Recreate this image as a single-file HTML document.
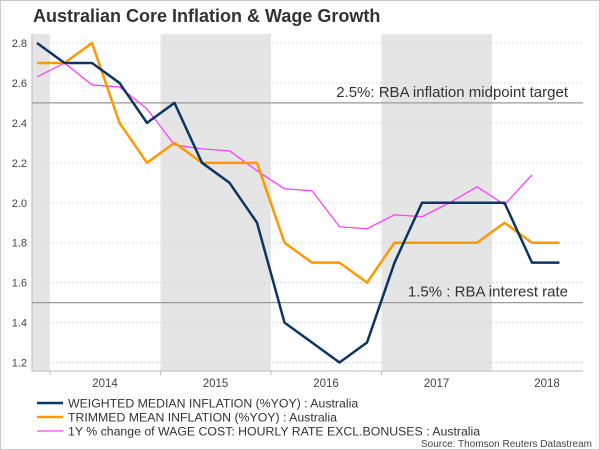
<!DOCTYPE html>
<html><head><meta charset="utf-8"><style>
body{margin:0;background:#fff}
#wrap{position:relative;width:598px;height:448px;border:1px solid #c8c8c8;background:#fff;overflow:hidden}
svg text{font-family:"Liberation Sans",Arial,sans-serif}
</style></head><body>
<div id="wrap">
<svg id="chart" width="598" height="448">
<text x="32" y="21" font-size="18" font-weight="bold" fill="#333">Australian Core Inflation &amp; Wage Growth</text>
<g id="plot"></g>
</svg>
</div>
<script>
const yTicks=[1.2,1.4,1.6,1.8,2.0,2.2,2.4,2.6,2.8];
const yearLabels=["2014","2015","2016","2017","2018"];
const weightedMedian=[2.8,2.7,2.7,2.6,2.4,2.5,2.2,2.1,1.9,1.4,1.3,1.2,1.3,1.7,2.0,2.0,2.0,2.0,1.7,1.7];
const trimmedMean=[2.7,2.7,2.8,2.4,2.2,2.3,2.2,2.2,2.2,1.8,1.7,1.7,1.6,1.8,1.8,1.8,1.8,1.9,1.8,1.8];
const wageGrowth=[2.63,2.7,2.59,2.58,2.47,2.29,2.27,2.26,2.16,2.07,2.06,1.88,1.87,1.94,1.93,2.0,2.08,1.99,2.14];
const refLines=[{v:2.5,label:"2.5%: RBA inflation midpoint target"},{v:1.5,label:"1.5% : RBA interest rate"}];
const shadedYears=[-1,1,3];

const NS="http://www.w3.org/2000/svg";
const g=document.getElementById('plot');
const X0=31,X1=582,TOP=33,AX=370;
const y=v=>42+(2.8-v)*199.7;
const x=i=>36+i*27.5;
const yearStart=k=>49+k*110.5;
function el(t,a){const e=document.createElementNS(NS,t);for(const k in a)e.setAttribute(k,a[k]);g.appendChild(e);return e;}

shadedYears.forEach(k=>{
  let a,b;
  if(k<0){a=X0;b=49;}else{a=yearStart(k);b=yearStart(k+1);}
  const r=el('rect',{x:a,y:TOP,width:b-a,height:AX-TOP,fill:'#e5e5e5'});
  
  
});
yTicks.forEach(v=>{
  const l=el('line',{x1:X0,x2:X1,y1:y(v),y2:y(v),stroke:'#d8d8d8','stroke-dasharray':'2,2','stroke-width':1});
  
  
  const t=el('text',{x:26,y:y(v)+4,'font-size':11,fill:'#444','text-anchor':'end'});
  t.textContent=v.toFixed(1);
  
  
});
const ya=el('line',{x1:X0,x2:X0,y1:TOP,y2:AX,stroke:'#bbb'});


const xa=el('line',{x1:X0,x2:X1,y1:AX,y2:AX,stroke:'#bbb'});


for(let k=0;k<4;k++){
  const tk=el('line',{x1:yearStart(k),x2:yearStart(k),y1:AX,y2:AX+4,stroke:'#bbb'});
  
  
}
yearLabels.forEach((s,k)=>{
  const t=el('text',{x:104+k*110.5,y:386,'font-size':11.5,fill:'#444','text-anchor':'middle'});
  t.textContent=s;
  
  
});
refLines.forEach(r=>{
  const l=el('line',{x1:X0,x2:X1,y1:y(r.v),y2:y(r.v),stroke:'#999','stroke-width':1.2});
  
  
  const t=el('text',{x:567,y:y(r.v)-6,'font-size':15,fill:'#333','text-anchor':'end'});
  t.textContent=r.label;
  
  
});
function series(arr,color,w,name){
  const p=el('polyline',{points:arr.map((v,i)=>x(i)+','+y(v)).join(' '),fill:'none',stroke:color,'stroke-width':w,'stroke-linejoin':'round'});
  
  
}
series(wageGrowth,'#ff40ff',1.3,'wage-growth-line');
series(trimmedMean,'#ff9900',2.5,'trimmed-mean-line');
series(weightedMedian,'#0d3564',2.5,'weighted-median-line');
const leg=[["#0d3564",2.5,"WEIGHTED MEDIAN INFLATION (%YOY) : Australia"],["#ff9900",2.5,"TRIMMED MEAN INFLATION (%YOY) : Australia"],["#ff40ff",1.3,"1Y % change of WAGE COST: HOURLY RATE EXCL.BONUSES : Australia"]];
leg.forEach((e,i)=>{
  const yy=402+i*14;
  const l=el('line',{x1:36,x2:62,y1:yy,y2:yy,stroke:e[0],'stroke-width':e[1]});
  
  
  const t=el('text',{x:67,y:yy+4.5,'font-size':12.3,fill:'#333'});
  t.textContent=e[2];
  
  
});
const src=el('text',{x:591,y:446,'font-size':10,fill:'#444','text-anchor':'end'});
src.textContent="Source: Thomson Reuters Datastream";


</script>
</body></html>
